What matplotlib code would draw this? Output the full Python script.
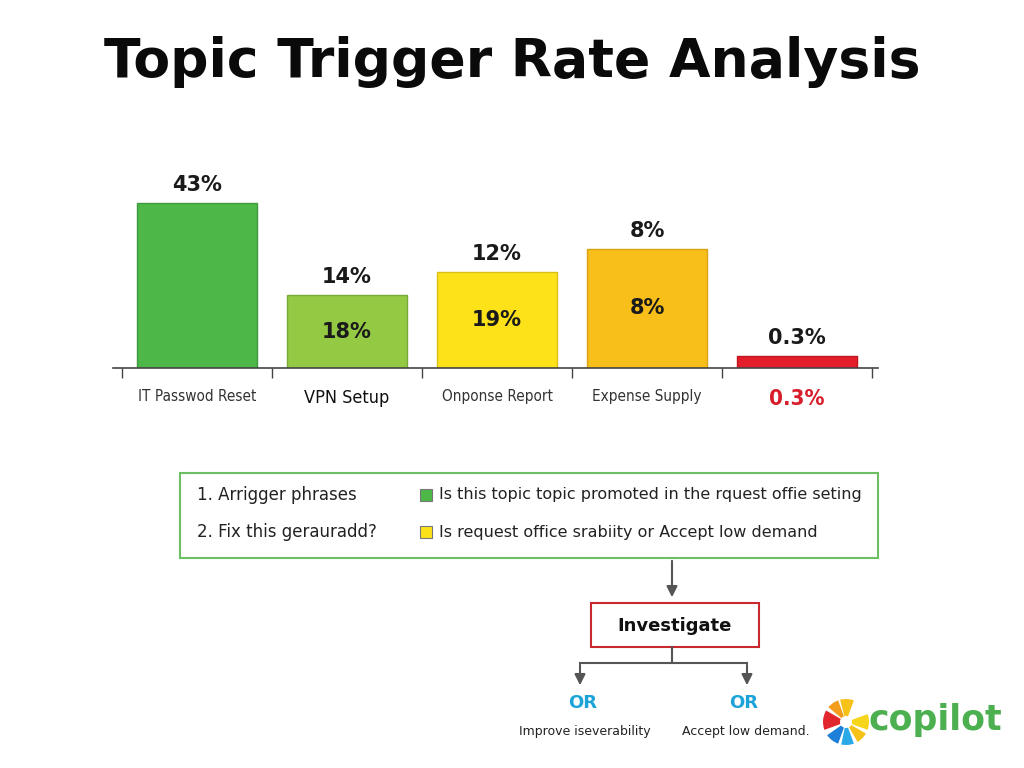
import matplotlib.pyplot as plt
from matplotlib.patches import Rectangle, Wedge, FancyArrowPatch

# data
categories = ["IT Passwod Reset", "VPN Setup", "Onponse Report", "Expense Supply", "0.3%"]
bar_heights = [43, 19, 25, 31, 3]
top_labels = ["43%", "14%", "12%", "8%", "0.3%"]
inner_labels = ["", "18%", "19%", "8%", ""]
bar_colors = ["#4db848", "#94c943", "#fde21a", "#f8be1a", "#e31e2a"]
edge_colors = ["#3f9c3c", "#7aa93a", "#d8c015", "#d9a314", "#c0161f"]

legend_left = ["1. Arrigger phrases", "2. Fix this gerauradd?"]
legend_right = ["Is this topic topic promoted in the rquest offie seting",
                "Is request office srabiity or Accept low demand"]
legend_colors = ["#4db848", "#fde21a"]
outcomes = ["Improve iseverability", "Accept low demand."]

W, H = 1024, 768
fig = plt.figure(figsize=(W / 100, H / 100), dpi=100)
fig.patch.set_facecolor("white")

# bar chart axes, placed in pixels
x0, x1 = 113, 878
ybase, ytop = 368, 176
ax = fig.add_axes([x0 / W, 1 - ybase / H, (x1 - x0) / W, (ybase - ytop) / H])
xs = list(range(len(categories)))
ax.bar(xs, bar_heights, width=0.8, color=bar_colors, edgecolor=edge_colors, linewidth=1)
ax.set_xlim(-0.56, 4.54)
ax.set_ylim(0, 50)
for s in ["top", "right", "left"]:
    ax.spines[s].set_visible(False)
ax.spines["bottom"].set_color("#444444")
ax.spines["bottom"].set_linewidth(1.2)
ax.set_yticks([])
ax.set_xticks([x - 0.5 for x in range(len(categories) + 1)])
ax.set_xticklabels([])
ax.tick_params(axis="x", which="major", length=7, width=1, color="#444444", direction="out")
ax.set_xticks(xs, minor=True)
ax.set_xticklabels(categories, minor=True)
ax.tick_params(axis="x", which="minor", length=0, pad=15)
lab_style = [
    dict(fontsize=11, color="#333333"),
    dict(fontsize=13, color="#111111"),
    dict(fontsize=11, color="#333333"),
    dict(fontsize=11, color="#333333"),
    dict(fontsize=16, color="#d81e2a", fontweight="bold"),
]
for t, st in zip(ax.get_xticklabels(minor=True), lab_style):
    t.set_fontsize(st["fontsize"])
    t.set_color(st["color"])
    t.set_fontweight(st.get("fontweight", "normal"))
    t.set_fontstretch("condensed")

for x, h, tl, il in zip(xs, bar_heights, top_labels, inner_labels):
    ax.annotate(tl, (x, h), xytext=(0, 6), textcoords="offset points",
                ha="center", va="bottom", fontsize=15, fontweight="bold", color="#1a1a1a")
    if il:
        ax.text(x, h * 0.5, il, ha="center", va="center", fontsize=15,
                fontweight="bold", color="#1a1a1a")

# overlay in pixel coordinates for title, legend box and flow chart
ov = fig.add_axes([0, 0, 1, 1])
ov.set_xlim(0, W)
ov.set_ylim(H, 0)
ov.axis("off")
ov.patch.set_alpha(0)

ov.text(512, 62, "Topic Trigger Rate Analysis", ha="center", va="center",
        fontsize=38.6, fontweight="bold", family="DejaVu Sans", color="#0a0a0a")

ov.add_patch(Rectangle((180, 473), 698, 85, fill=False, edgecolor="#6dbf62", linewidth=1.5))
for i in range(2):
    yy = 495 + 37 * i
    ov.text(197, yy, legend_left[i], ha="left", va="center", fontsize=12, color="#222222")
    ov.add_patch(Rectangle((420, yy - 6), 12, 12, facecolor=legend_colors[i],
                           edgecolor="#777777", linewidth=0.8))
    ov.text(439, yy, legend_right[i], ha="left", va="center", fontsize=11.5, color="#222222")

arrow_kw = dict(arrowstyle="-|>", mutation_scale=16, color="#555555", linewidth=1.5)
ov.add_patch(FancyArrowPatch((672, 558), (672, 600), **arrow_kw))
ov.add_patch(Rectangle((591, 603), 168, 44, fill=False, edgecolor="#c8282e", linewidth=1.5))
ov.text(675, 626, "Investigate", ha="center", va="center", fontsize=13,
        fontweight="bold", color="#111111")
ov.plot([672, 672], [647, 663], color="#555555", lw=1.5)
ov.plot([580, 747], [663, 663], color="#555555", lw=1.5)
ov.add_patch(FancyArrowPatch((580, 662), (580, 688), **arrow_kw))
ov.add_patch(FancyArrowPatch((747, 662), (747, 688), **arrow_kw))
for xc, txt in zip([583, 744], outcomes):
    ov.text(xc, 703, "OR", ha="center", va="center", fontsize=13, fontweight="bold", color="#1ca3d8")
    ov.text(xc + 2, 732, txt, ha="center", va="center", fontsize=9, color="#222222")

# copilot logo
cx, cy = 846, 722
spokes = [(70, 105, "#f6c21a"), (110, 140, "#f39c1e"), (150, 200, "#e2262e"),
          (215, 250, "#1e7fd8"), (258, 290, "#2aa9e8"), (300, 330, "#f6c21a"),
          (340, 20, "#f6d51a")]
for a0, a1, c in spokes:
    # y axis is flipped, so negate angles to keep the look
    ov.add_patch(Wedge((cx, cy), 23, -a1, -a0, width=17, facecolor=c, edgecolor="none"))
ov.text(869, 720, "copilot", ha="left", va="center", fontsize=25, fontweight="bold",
        color="#4caf50")

fig.savefig("out.png", dpi=100)
